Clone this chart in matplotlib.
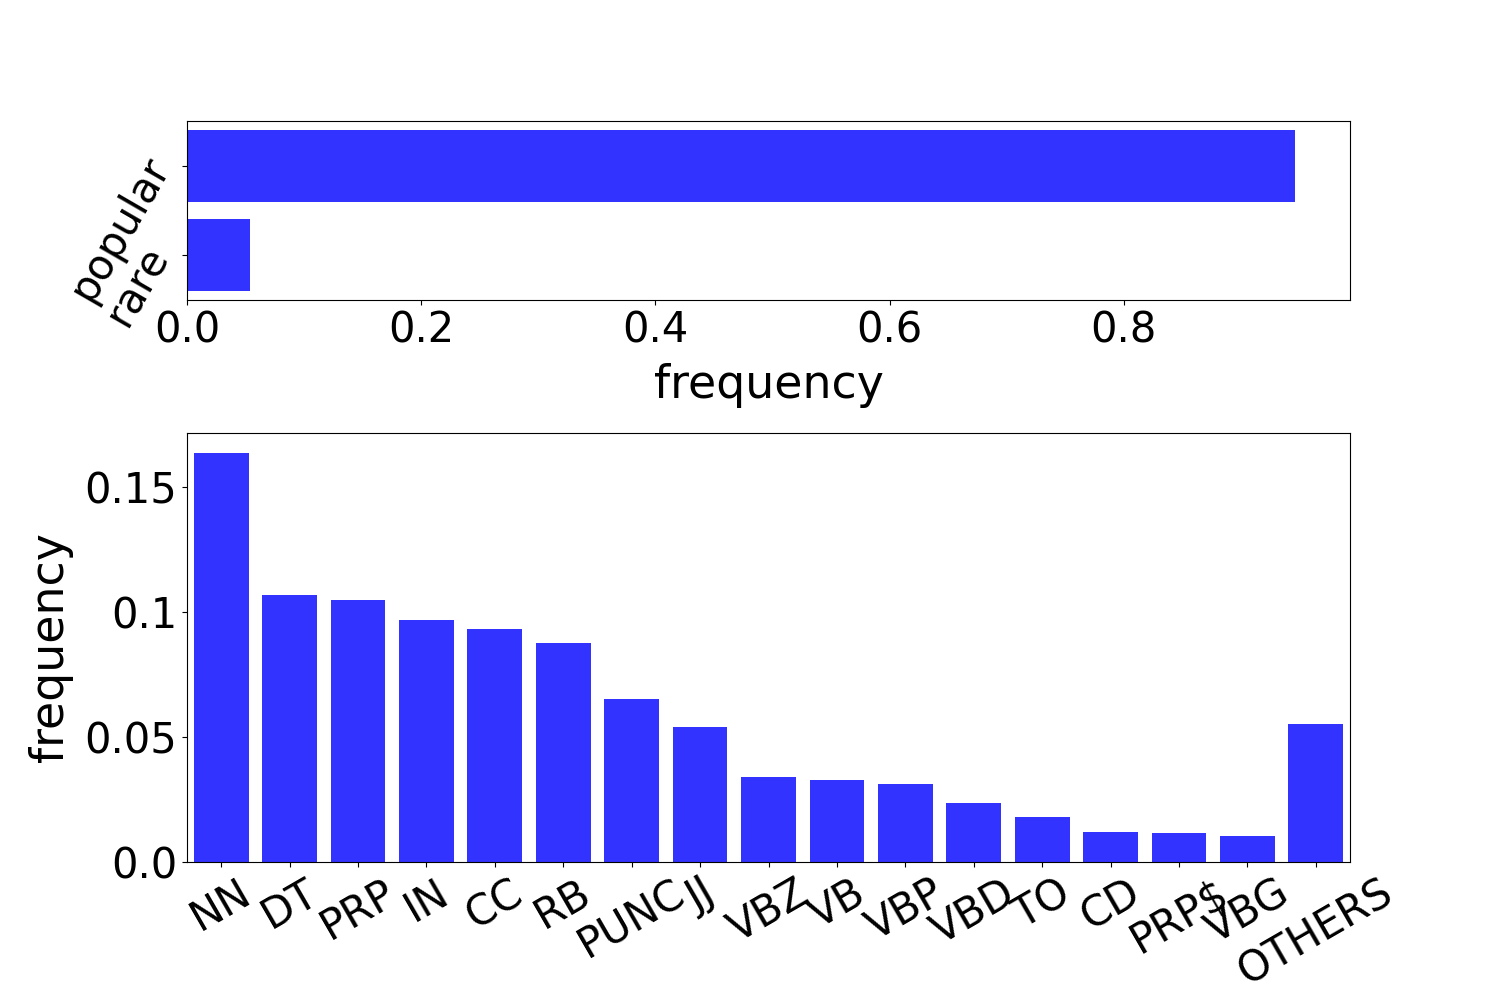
import matplotlib
matplotlib.use("Agg")
import matplotlib.pyplot as plt

groups = ["popular", "rare"]
group_freq = [0.946, 0.054]

tags = ["NN", "DT", "PRP", "IN", "CC", "RB", "PUNC", "JJ", "VBZ", "VB", "VBP",
        "VBD", "TO", "CD", "PRP$", "VBG", "OTHERS"]
tag_freq = [0.1636, 0.1068, 0.1048, 0.0968, 0.0932, 0.0876, 0.0652, 0.054,
            0.034, 0.0328, 0.0312, 0.0236, 0.018, 0.012, 0.0116, 0.0104, 0.0552]

bottom_yticks = [0.0, 0.05, 0.1, 0.15]
bottom_yticklabels = ["0.0", "0.05", "0.1", "0.15"]

plt.rcParams['font.family'] = ['DejaVu Sans']
plt.rcParams['font.size'] = 30
plt.rcParams['xtick.labelsize'] = 30
plt.rcParams['ytick.labelsize'] = 30
plt.rcParams['axes.labelsize'] = 33

fig = plt.figure(figsize=(15, 10.05), dpi=100)
color = (0.2, 0.2, 1.0)

ax1 = fig.add_axes([187/1500, (1005-300)/1005, 1163/1500, 179/1005])
ypos = list(range(len(groups)))
ax1.barh(ypos, group_freq, height=0.8, color=color)
ax1.set_ylim(1.5, -0.5)
ax1.set_yticks(ypos)
ax1.set_yticklabels(groups, rotation=60)
ax1.set_xlabel("frequency", labelpad=8)
ax1.set_xticks([0.0, 0.2, 0.4, 0.6, 0.8])

ax2 = fig.add_axes([187/1500, (1005-862)/1005, 1163/1500, 429/1005])
xpos = list(range(len(tags)))
ax2.bar(xpos, tag_freq, width=0.8, color=color)
ax2.set_xlim(-0.5, len(tags) - 0.5)
ax2.set_xticks(xpos)
ax2.set_xticklabels(tags, rotation=30)
ax2.set_yticks(bottom_yticks)
ax2.set_yticklabels(bottom_yticklabels)
ax2.set_ylabel("frequency", labelpad=8)

fig.savefig("out.png", dpi=100)
